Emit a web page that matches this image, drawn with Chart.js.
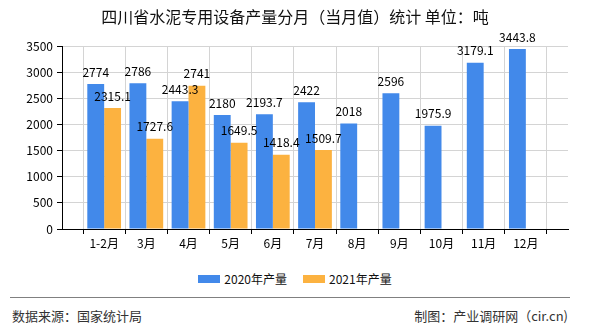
<!DOCTYPE html>
<html>
<head>
<meta charset="utf-8">
<script src="https://cdn.jsdelivr.net/npm/chart.js@4/dist/chart.umd.min.js"></script>
<style>
  body { margin: 0; background: #fff; font-family: "Noto Sans CJK SC", sans-serif; }
  #wrap { position: relative; width: 590px; height: 330px; overflow: hidden; }
  #title { position: absolute; top: 5px; left: 0; width: 590px; text-align: center; font-size: 16px; color: #111; line-height: 22px; }
  #chartBox { position: absolute; left: 0; top: 0; width: 590px; height: 262px; }
  #legend { position: absolute; top: 270px; left: 0; width: 590px; display: flex; justify-content: center; font-size: 12px; color: #111; }
  .item { display: flex; align-items: center; margin: 0 8px; }
  .box { width: 22px; height: 8px; margin-right: 4px; }
  #line { position: absolute; top: 297px; left: 10px; width: 560px; border-top: 1px solid #808080; }
  .foot { position: absolute; top: 307px; font-size: 13px; color: #333; line-height: 18px; }
</style>
</head>
<body>
<div id="wrap">
  <div id="chartBox"><canvas id="bar-chart"></canvas></div>
  <div id="title">四川省水泥专用设备产量分月（当月值）统计 单位：吨</div>
  <div id="legend"></div>
  <div id="line"></div>
  <div class="foot" style="left:12px">数据来源：国家统计局</div>
  <div class="foot" style="right:22px">制图：产业调研网（cir.cn)</div>
</div>
<script>
// months shown on the x axis
const months = ['1-2月', '3月', '4月', '5月', '6月', '7月', '8月', '9月', '10月', '11月', '12月'];
const output2020 = [2774, 2786, 2443.3, 2180, 2193.7, 2422, 2018, 2596, 1975.9, 3179.1, 3443.8];
const output2021 = [2315.1, 1727.6, 2741, 1649.5, 1418.4, 1509.7, null, null, null, null, null];
const yTicks = [0, 500, 1000, 1500, 2000, 2500, 3000, 3500];

// empty slot on each end, like the original axis
const labels = [''].concat(months, ['']);
function pad(arr) { return [null].concat(arr, [null]); }

const barLabels = {
    id: 'barLabels',
    afterDatasetsDraw(chart) {
        const ctx = chart.ctx;
        ctx.save();
        ctx.font = '12px "Noto Sans CJK SC"';
        ctx.fillStyle = '#000';
        ctx.textAlign = 'center';
        ctx.textBaseline = 'middle';
        chart.data.datasets.forEach((ds, i) => {
            chart.getDatasetMeta(i).data.forEach((bar, j) => {
                const v = ds.data[j];
                if (v == null) return;
                ctx.fillText(String(v), bar.x, bar.y - 12);
            });
        });
        ctx.restore();
    }
};

const chart = new Chart(document.getElementById('bar-chart'), {
    type: 'bar',
    data: {
        labels: labels,
        datasets: [{
            label: '2020年产量',
            data: pad(output2020),
            backgroundColor: '#4289ea',
            barPercentage: 1,
            categoryPercentage: 0.8
        }, {
            label: '2021年产量',
            data: pad(output2021),
            backgroundColor: '#fcb240',
            barPercentage: 1,
            categoryPercentage: 0.8
        }]
    },
    options: {
        responsive: true,
        maintainAspectRatio: false,
        animation: false,
        layout: { padding: { left: 0, right: 22, top: 46, bottom: 0 } },
        plugins: {
            legend: { display: false },
            tooltip: { enabled: false },
            title: { display: false }
        },
        scales: {
            x: {
                offset: false,
                border: { color: '#000' },
                grid: { color: '#d4d4d4', tickColor: '#000', tickLength: 5 },
                ticks: {
                    autoSkip: false, maxRotation: 0, padding: 2,
                    color: '#000', font: { family: 'Noto Sans CJK SC', size: 12 }
                },
                afterFit(scale) { scale.height = 33; }
            },
            y: {
                min: 0,
                max: 3500,
                border: { color: '#000' },
                grid: { color: '#d4d4d4', tickColor: '#000', tickLength: 5 },
                afterBuildTicks(scale) { scale.ticks = yTicks.map(v => ({ value: v })); },
                ticks: {
                    padding: 4,
                    color: '#000', font: { family: 'Noto Sans CJK SC', size: 12 },
                    callback: v => String(v)
                },
                afterFit(scale) { scale.width = 62; }
            }
        }
    },
    plugins: [barLabels]
});

// legend from the chart's own datasets
const legend = document.getElementById('legend');
chart.data.datasets.forEach(ds => {
    const item = document.createElement('div');
    item.className = 'item';
    item.innerHTML = '<span class="box" style="background:' + ds.backgroundColor + '"></span><span>' + ds.label + '</span>';
    legend.appendChild(item);
});
</script>
</body>
</html>
